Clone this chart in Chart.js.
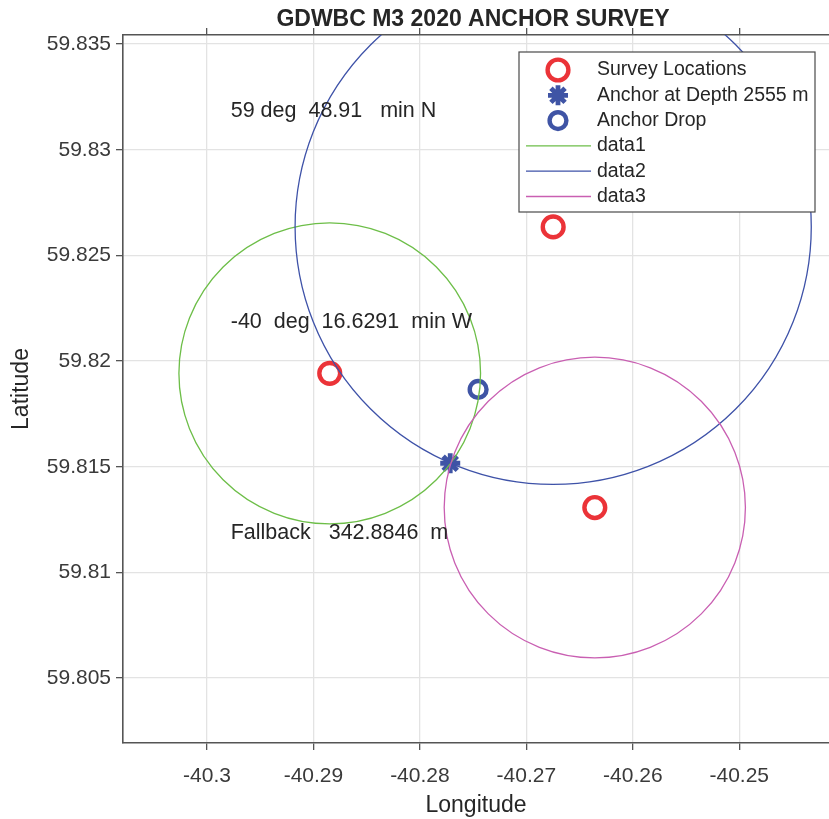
<!DOCTYPE html>
<html>
<head>
<meta charset="utf-8">
<title>GDWBC M3 2020 ANCHOR SURVEY</title>
<script src="https://cdn.jsdelivr.net/npm/chart.js@4.4.1/dist/chart.umd.min.js"></script>
<style>
  html, body { margin: 0; padding: 0; background: #ffffff; overflow: hidden; }
  canvas { display: block; }
</style>
</head>
<body>
<canvas id="survey" width="829" height="819"></canvas>
<script>
// Survey positions (decimal degrees)
const SURVEY_LON = [-40.28847, -40.26748, -40.26357];
const SURVEY_LAT = [59.81942, 59.82635, 59.81307];

// Where the anchor was dropped from the ship
const DROP_LON = [-40.27453];
const DROP_LAT = [59.81866];

// Triangulated anchor position, degrees + decimal minutes
const ANCHOR_LAT_DEG = 59;
const ANCHOR_LAT_MIN = 48.91;
const ANCHOR_LON_DEG = -40;
const ANCHOR_LON_MIN = 16.6291;
const ANCHOR_DEPTH_M = 2555;
const FALLBACK_M = 342.8846;

// Horizontal range rings around each survey position (metres)
const RING_LABELS = ['data1', 'data2', 'data3'];
const RING_RADIUS_M = [792, 1355, 791];

// Axis ticks and limits
const X_TICKS = [-40.3, -40.29, -40.28, -40.27, -40.26, -40.25];
const Y_TICKS = [59.805, 59.81, 59.815, 59.82, 59.825, 59.83, 59.835];
const X_LIMITS = [-40.30789, -40.24157];
const Y_LIMITS = [59.80193, 59.83543];

const M_PER_DEG = 111195;   // metres per degree of latitude (spherical earth)

const anchorLat = ANCHOR_LAT_DEG + ANCHOR_LAT_MIN / 60;
const anchorLon = ANCHOR_LON_DEG - ANCHOR_LON_MIN / 60;

const RED = '#EB3338';
const BLUE = '#3F54A5';
const RING_COLORS = ['#6DBE48', '#3E52A8', '#C95FB2'];
const TEXT = '#262626';
const AXIS = '#555555';
const GRID = '#E3E3E3';
const FONT = "'Liberation Sans', Arial, Helvetica, sans-serif";

Chart.defaults.font.family = FONT;
Chart.defaults.color = TEXT;

const fmt = v => String(parseFloat(Number(v).toFixed(5)));

// Keep the plot box fixed: no extra room reserved for label overhang
const noPad = s => { s.paddingLeft = 0; s.paddingRight = 0; s.paddingTop = 0; s.paddingBottom = 0; };

// Range rings, drawn as true ellipses in data space so they follow the scales
const ringPlugin = {
  id: 'rangeRings',
  afterDatasetsDraw(chart) {
    const { ctx, chartArea: a, scales: { x, y } } = chart;
    ctx.save();
    ctx.beginPath();
    ctx.rect(a.left, a.top, a.right - a.left, a.bottom - a.top);
    ctx.clip();
    RING_RADIUS_M.forEach((r, i) => {
      const lon = SURVEY_LON[i], lat = SURVEY_LAT[i];
      const dLat = r / M_PER_DEG;
      const dLon = r / (M_PER_DEG * Math.cos(lat * Math.PI / 180));
      const cx = x.getPixelForValue(lon), cy = y.getPixelForValue(lat);
      const rx = Math.abs(x.getPixelForValue(lon + dLon) - cx);
      const ry = Math.abs(y.getPixelForValue(lat + dLat) - cy);
      ctx.beginPath();
      ctx.ellipse(cx, cy, rx, ry, 0, 0, Math.PI * 2);
      ctx.strokeStyle = RING_COLORS[i];
      ctx.lineWidth = 1.3;
      ctx.stroke();
    });
    ctx.restore();
  }
};

// Title, position notes and the boxed legend
const decorPlugin = {
  id: 'decor',
  afterDraw(chart) {
    const { ctx, chartArea: a, scales: { x, y } } = chart;
    const o = chart.options.plugins.decor;
    ctx.save();

    // title
    ctx.fillStyle = TEXT;
    ctx.font = `bold 23px ${FONT}`;
    ctx.textAlign = 'center';
    ctx.textBaseline = 'middle';
    ctx.fillText('GDWBC M3 2020 ANCHOR SURVEY', (a.left + a.right) / 2 - 3, 19.5);

    // position notes, anchored in data coordinates
    ctx.font = `21.5px ${FONT}`;
    ctx.textAlign = 'left';
    o.notes.forEach(n => {
      ctx.fillText(n.text, x.getPixelForValue(o.noteLon), y.getPixelForValue(n.lat));
    });

    // legend box
    const L = o.legend;
    ctx.fillStyle = '#ffffff';
    ctx.fillRect(L.left, L.top, L.right - L.left, L.bottom - L.top);
    ctx.strokeStyle = '#4a4a4a';
    ctx.lineWidth = 1.2;
    ctx.strokeRect(L.left, L.top, L.right - L.left, L.bottom - L.top);

    const items = [];
    chart.data.datasets.forEach(ds => items.push({ type: 'point', label: ds.label, ds }));
    RING_LABELS.forEach((lab, i) => items.push({ type: 'line', label: lab, color: RING_COLORS[i] }));

    ctx.font = `19.5px ${FONT}`;
    items.forEach((it, i) => {
      const yy = L.firstRow + i * L.rowStep;
      if (it.type === 'point') {
        ctx.strokeStyle = it.ds.borderColor;
        ctx.fillStyle = 'rgba(0,0,0,0)';
        ctx.lineWidth = it.ds.borderWidth;
        Chart.helpers.drawPoint(ctx, {
          pointStyle: it.ds.pointStyle,
          radius: it.ds.pointRadius,
          borderWidth: it.ds.borderWidth,
          rotation: 0
        }, L.markerX, yy);
      } else {
        ctx.beginPath();
        ctx.moveTo(L.lineX0, yy);
        ctx.lineTo(L.lineX1, yy);
        ctx.strokeStyle = it.color;
        ctx.lineWidth = 1.3;
        ctx.stroke();
      }
      ctx.fillStyle = TEXT;
      ctx.textAlign = 'left';
      ctx.textBaseline = 'middle';
      ctx.fillText(it.label, L.textX, yy);
    });
    ctx.restore();
  }
};

const tickGrid = {
  color: GRID,
  lineWidth: 1.3,
  drawTicks: true,
  tickLength: 7,
  tickColor: AXIS,
  tickWidth: 1.3
};

new Chart(document.getElementById('survey'), {
  type: 'scatter',
  data: {
    datasets: [
      {
        label: 'Survey Locations',
        data: SURVEY_LON.map((lon, i) => ({ x: lon, y: SURVEY_LAT[i] })),
        pointStyle: 'circle',
        pointRadius: 10.4,
        borderWidth: 4.4,
        borderColor: RED,
        backgroundColor: 'rgba(0,0,0,0)'
      },
      {
        label: 'Anchor at Depth ' + ANCHOR_DEPTH_M + ' m',
        data: [{ x: anchorLon, y: anchorLat }],
        pointStyle: 'star',
        pointRadius: 10,
        borderWidth: 4.8,
        borderColor: BLUE,
        backgroundColor: BLUE
      },
      {
        label: 'Anchor Drop',
        data: DROP_LON.map((lon, i) => ({ x: lon, y: DROP_LAT[i] })),
        pointStyle: 'circle',
        pointRadius: 8.4,
        borderWidth: 4.4,
        borderColor: BLUE,
        backgroundColor: 'rgba(0,0,0,0)'
      }
    ]
  },
  options: {
    responsive: false,
    animation: false,
    devicePixelRatio: 1,
    layout: { padding: 0, autoPadding: false },
    plugins: {
      legend: { display: false },
      title: { display: false },
      tooltip: { enabled: false },
      decor: {
        noteLon: -40.29777,
        notes: [
          { text: `${ANCHOR_LAT_DEG} deg  ${ANCHOR_LAT_MIN}   min N`, lat: 59.83183 },
          { text: `${ANCHOR_LON_DEG}  deg  ${ANCHOR_LON_MIN}  min W`, lat: 59.82186 },
          { text: `Fallback   ${FALLBACK_M}  m`, lat: 59.81185 }
        ],
        legend: {
          left: 519, top: 52, right: 815, bottom: 212,
          firstRow: 70, rowStep: 25.3,
          markerX: 558, lineX0: 526, lineX1: 591, textX: 597
        }
      }
    },
    scales: {
      x: {
        type: 'linear',
        position: 'bottom',
        min: X_LIMITS[0],
        max: X_LIMITS[1],
        afterBuildTicks: s => { s.ticks = X_TICKS.map(v => ({ value: v })); },
        afterFit: s => { s.height = 76; noPad(s); },
        grid: tickGrid,
        border: { display: true, color: AXIS, width: 1.6 },
        ticks: {
          callback: v => fmt(v),
          font: { size: 21 },
          color: '#3a3a3a',
          padding: 14,
          maxRotation: 0,
          autoSkip: false
        },
        title: {
          display: true,
          text: 'Longitude',
          font: { size: 23 },
          color: TEXT,
          padding: { top: 0, bottom: 0 }
        }
      },
      xTop: {
        type: 'linear',
        axis: 'x',
        position: 'top',
        min: X_LIMITS[0],
        max: X_LIMITS[1],
        afterBuildTicks: s => { s.ticks = X_TICKS.map(v => ({ value: v })); },
        afterFit: s => { s.height = 35; noPad(s); },
        grid: Object.assign({}, tickGrid, { drawOnChartArea: false }),
        border: { display: true, color: AXIS, width: 1.6 },
        ticks: { display: false }
      },
      y: {
        type: 'linear',
        position: 'left',
        min: Y_LIMITS[0],
        max: Y_LIMITS[1],
        afterBuildTicks: s => { s.ticks = Y_TICKS.map(v => ({ value: v })); },
        afterFit: s => { s.width = 123; noPad(s); },
        grid: tickGrid,
        border: { display: true, color: AXIS, width: 1.6 },
        ticks: {
          callback: v => fmt(v),
          font: { size: 21 },
          color: '#3a3a3a',
          padding: 5,
          autoSkip: false
        },
        title: {
          display: true,
          text: 'Latitude',
          font: { size: 23 },
          color: TEXT,
          padding: { top: 8, bottom: 0 }
        }
      }
    }
  },
  plugins: [ringPlugin, decorPlugin]
});
</script>
</body>
</html>
